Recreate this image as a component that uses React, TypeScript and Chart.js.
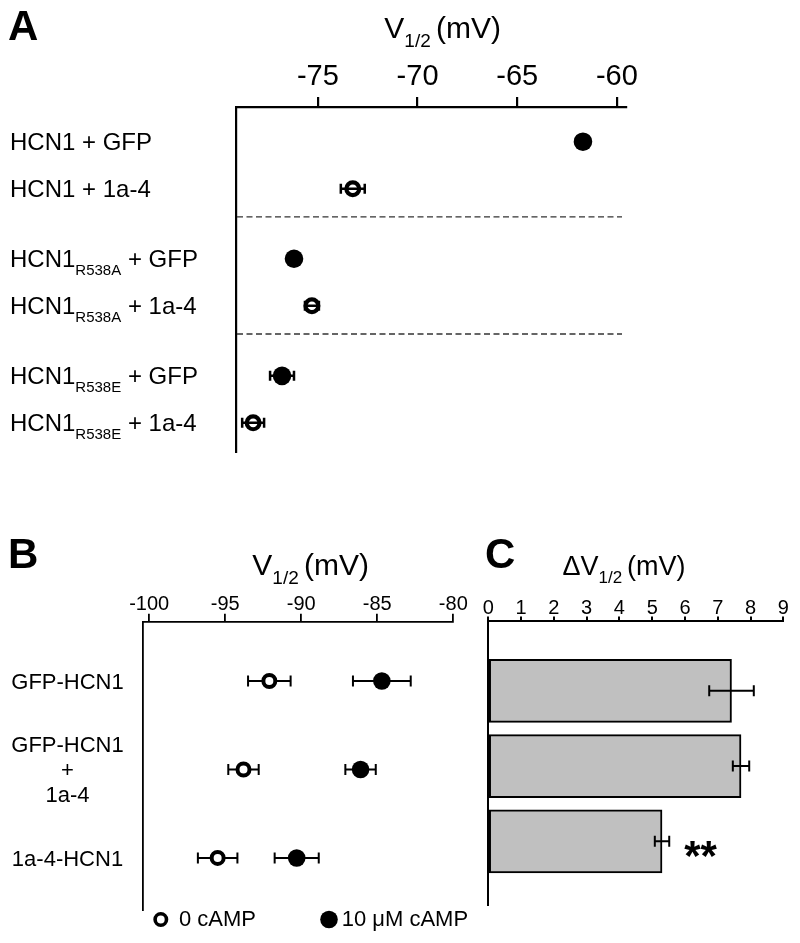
import { useEffect, useRef } from "react";
import { Chart, registerables } from "chart.js";
Chart.register(...registerables);

const FONT = "'Liberation Sans', Arial, Helvetica, sans-serif";

// ---------- Panel A data ----------
const labelsA = [
  "HCN1 + GFP",
  "HCN1 + 1a-4",
  "HCN1_R538A + GFP",
  "HCN1_R538A + 1a-4",
  "HCN1_R538E + GFP",
  "HCN1_R538E + 1a-4",
];
const groupA = [0, 0, 1, 1, 2, 2];
const filledA = [true, false, true, false, true, false];
const valuesA = [-61.7, -73.25, -76.2, -75.3, -76.8, -78.25];
const errorsA = [0.3, 0.6, 0.3, 0.35, 0.6, 0.55];
const ticksA = [-75, -70, -65, -60];

// ---------- Panel B data ----------
const labelsB = [["GFP-HCN1"], ["GFP-HCN1", "+", "1a-4"], ["1a-4-HCN1"]];
const camp0B = [-92.1, -93.8, -95.5];
const camp0ErrB = [1.4, 1.0, 1.3];
const camp10B = [-84.7, -86.1, -90.3];
const camp10ErrB = [1.9, 1.0, 1.45];
const ticksB = [-100, -95, -90, -85, -80];
const legendB = ["0 cAMP", "10 μM cAMP"];

// ---------- Panel C data ----------
const deltaC = [7.42, 7.71, 5.3];
const deltaErrC = [0.68, 0.25, 0.22];
const sigC = ["", "", "**"];
const ticksC = [0, 1, 2, 3, 4, 5, 6, 7, 8, 9];

type Part = { t: string; sub?: boolean };

const GROUP_GAP = 0.49;
const rowPosA = (i: number) => i + GROUP_GAP * groupA[i];

function parseSub(label: string): Part[] {
  const m = label.match(/^(.*?)_(\S+)(.*)$/);
  if (!m) return [{ t: label }];
  return [{ t: m[1] }, { t: m[2], sub: true }, { t: m[3] }];
}

function drawRich(
  ctx: CanvasRenderingContext2D,
  parts: Part[],
  x: number,
  y: number,
  size: number,
  subSize: number,
  align: "left" | "center",
  weight = "normal"
) {
  ctx.save();
  ctx.fillStyle = "#000";
  ctx.textBaseline = "alphabetic";
  ctx.textAlign = "left";
  const widths = parts.map((p) => {
    ctx.font = `${weight} ${p.sub ? subSize : size}px ${FONT}`;
    return ctx.measureText(p.t).width;
  });
  const total = widths.reduce((a, b) => a + b, 0);
  let cx = align === "center" ? x - total / 2 : x;
  parts.forEach((p, i) => {
    ctx.font = `${weight} ${p.sub ? subSize : size}px ${FONT}`;
    ctx.fillText(p.t, cx, p.sub ? y + size * 0.3 : y);
    cx += widths[i];
  });
  ctx.restore();
}

function drawErrH(ctx: CanvasRenderingContext2D, xs: any, v: number, e: number, y: number, cap: number) {
  const x1 = xs.getPixelForValue(v - e);
  const x2 = xs.getPixelForValue(v + e);
  ctx.beginPath();
  ctx.moveTo(x1, y);
  ctx.lineTo(x2, y);
  ctx.moveTo(x1, y - cap / 2);
  ctx.lineTo(x1, y + cap / 2);
  ctx.moveTo(x2, y - cap / 2);
  ctx.lineTo(x2, y + cap / 2);
  ctx.stroke();
}

function letter(ctx: CanvasRenderingContext2D, t: string, x: number, y: number) {
  ctx.save();
  ctx.font = `bold 42px ${FONT}`;
  ctx.fillStyle = "#000";
  ctx.textAlign = "left";
  ctx.textBaseline = "alphabetic";
  ctx.fillText(t, x, y);
  ctx.restore();
}

function topAxis(min: number, max: number, ticks: number[], height: number, fontSize: number, tickLen: number, pad: number, lw: number) {
  return {
    type: "linear",
    position: "top",
    min,
    max,
    afterFit: (s: any) => {
      s.height = height;
    },
    afterBuildTicks: (s: any) => {
      s.ticks = ticks.map((v) => ({ value: v }));
    },
    ticks: {
      font: { size: fontSize, family: FONT },
      color: "#000",
      padding: pad,
      autoSkip: false,
      maxRotation: 0,
    },
    grid: {
      display: true,
      drawOnChartArea: false,
      drawTicks: true,
      tickLength: tickLen,
      tickWidth: lw,
      tickColor: "#000",
      color: "#000",
      lineWidth: lw,
    },
    border: { display: true, width: lw, color: "#000" },
  } as any;
}

function leftAxis(min: number, max: number, width: number, lw: number) {
  return {
    type: "linear",
    reverse: true,
    min,
    max,
    afterFit: (s: any) => {
      s.width = width;
    },
    ticks: { display: false },
    grid: { display: false, drawTicks: false },
    border: { display: true, width: lw, color: "#000" },
  } as any;
}

function makeA(canvas: HTMLCanvasElement) {
  const filledPts: any[] = [];
  const openPts: any[] = [];
  valuesA.forEach((v, i) => {
    (filledA[i] ? filledPts : openPts).push({ x: v, y: rowPosA(i) });
  });
  const plugin = {
    id: "decorA",
    beforeDatasetsDraw(chart: any) {
      const { ctx, chartArea, scales } = chart;
      ctx.save();
      ctx.strokeStyle = "#333";
      ctx.lineWidth = 1.4;
      ctx.setLineDash([6, 3.5]);
      [1, 3].forEach((lastRow) => {
        const y = scales.y.getPixelForValue(rowPosA(lastRow) + 0.6);
        ctx.beginPath();
        ctx.moveTo(chartArea.left + 1, y);
        ctx.lineTo(chartArea.right - 4, y);
        ctx.stroke();
      });
      ctx.restore();
    },
    afterDatasetsDraw(chart: any) {
      const { ctx, scales } = chart;
      ctx.save();
      ctx.strokeStyle = "#000";
      ctx.lineWidth = 2.5;
      valuesA.forEach((v, i) => drawErrH(ctx, scales.x, v, errorsA[i], scales.y.getPixelForValue(rowPosA(i)), 10));
      ctx.restore();
    },
    afterDraw(chart: any) {
      const { ctx, chartArea, scales } = chart;
      labelsA.forEach((l, i) => {
        const y = scales.y.getPixelForValue(rowPosA(i)) + 24 * 0.358;
        drawRich(ctx, parseSub(l), 10, y, 24, 15, "left");
      });
      const cx = chartArea.left + 0.53 * (chartArea.right - chartArea.left);
      drawRich(ctx, [{ t: "V" }, { t: "1/2 ", sub: true }, { t: "(mV)" }], cx, 37.5, 30, 19, "center");
      letter(ctx, "A", 8, 40);
    },
  };
  return new Chart(canvas, {
    type: "scatter",
    data: {
      datasets: [
        { label: "GFP", data: filledPts, pointRadius: 9.3, borderWidth: 0, backgroundColor: "#000", clip: false } as any,
        { label: "1a-4", data: openPts, pointRadius: 6.4, borderWidth: 4.2, borderColor: "#000", backgroundColor: "rgba(255,255,255,0)", clip: false } as any,
      ],
    },
    options: {
      animation: false,
      responsive: false,
      maintainAspectRatio: false,
      layout: { padding: { left: 0, top: 0, right: 34, bottom: 18 } },
      plugins: { legend: { display: false }, tooltip: { enabled: false } },
      scales: {
        x: topAxis(-79.11, -59.54, ticksA, 107, 29, 10, 2.5, 2.2),
        y: leftAxis(-0.738, 6.6, 236, 2.2),
      },
    } as any,
    plugins: [plugin],
  });
}

function makeB(canvas: HTMLCanvasElement) {
  const plugin = {
    id: "decorB",
    beforeDatasetsDraw(chart: any) {
      const { ctx, scales } = chart;
      ctx.save();
      ctx.strokeStyle = "#000";
      ctx.lineWidth = 2;
      camp0B.forEach((v, i) => drawErrH(ctx, scales.x, v, camp0ErrB[i], scales.y.getPixelForValue(i), 11));
      camp10B.forEach((v, i) => drawErrH(ctx, scales.x, v, camp10ErrB[i], scales.y.getPixelForValue(i), 11));
      ctx.restore();
    },
    afterDraw(chart: any) {
      const { ctx, chartArea, scales } = chart;
      ctx.save();
      ctx.fillStyle = "#000";
      ctx.textAlign = "center";
      ctx.textBaseline = "alphabetic";
      ctx.font = `22px ${FONT}`;
      labelsB.forEach((lines, i) => {
        const y = scales.y.getPixelForValue(i);
        lines.forEach((t, j) => {
          ctx.fillText(t, 67.5, y + 22 * 0.358 + (j - (lines.length - 1) / 2) * 25);
        });
      });
      // legend
      const ly = chartArea.bottom + 9.5;
      ctx.strokeStyle = "#000";
      ctx.lineWidth = 3.6;
      ctx.beginPath();
      ctx.arc(chartArea.left + 17.5, ly, 5.7, 0, Math.PI * 2);
      ctx.stroke();
      ctx.beginPath();
      ctx.arc(chartArea.left + 185.7, ly, 8.8, 0, Math.PI * 2);
      ctx.fill();
      ctx.textAlign = "left";
      ctx.font = `22px ${FONT}`;
      ctx.fillText(legendB[0], chartArea.left + 35.7, ly + 6.5);
      ctx.fillText(legendB[1], chartArea.left + 198.4, ly + 6.5);
      ctx.restore();
      const cx = chartArea.left + 0.54 * (chartArea.right - chartArea.left);
      drawRich(ctx, [{ t: "V" }, { t: "1/2 ", sub: true }, { t: "(mV)" }], cx, 45, 30, 19, "center");
      letter(ctx, "B", 8, 38);
    },
  };
  return new Chart(canvas, {
    type: "scatter",
    data: {
      datasets: [
        { label: "0 cAMP", data: camp0B.map((v, i) => ({ x: v, y: i })), pointRadius: 6, borderWidth: 4, borderColor: "#000", backgroundColor: "#fff", clip: false } as any,
        { label: "10 μM cAMP", data: camp10B.map((v, i) => ({ x: v, y: i })), pointRadius: 8.8, borderWidth: 0, backgroundColor: "#000", clip: false } as any,
      ],
    },
    options: {
      animation: false,
      responsive: false,
      maintainAspectRatio: false,
      layout: { padding: { left: 0, top: 0, right: 26.7, bottom: 33 } },
      plugins: { legend: { display: false }, tooltip: { enabled: false } },
      scales: {
        x: topAxis(-100.39, -80, ticksB, 91.7, 20, 8, -3, 1.8),
        y: leftAxis(-0.67, 2.588, 143.3, 1.8),
      },
    } as any,
    plugins: [plugin],
  });
}

function makeC(canvas: HTMLCanvasElement) {
  const plugin = {
    id: "decorC",
    afterDatasetsDraw(chart: any) {
      const { ctx, scales } = chart;
      ctx.save();
      ctx.strokeStyle = "#000";
      ctx.lineWidth = 2;
      deltaC.forEach((v, i) => drawErrH(ctx, scales.x, v, deltaErrC[i], scales.y.getPixelForValue(i), 11));
      ctx.fillStyle = "#000";
      ctx.font = `bold 42px ${FONT}`;
      ctx.textAlign = "left";
      ctx.textBaseline = "alphabetic";
      sigC.forEach((s, i) => {
        if (!s) return;
        ctx.fillText(s, scales.x.getPixelForValue(deltaC[i] + deltaErrC[i]) + 15, scales.y.getPixelForValue(i) + 29);
      });
      ctx.restore();
    },
    afterDraw(chart: any) {
      const { ctx, chartArea } = chart;
      const cx = chartArea.left + 0.46 * (chartArea.right - chartArea.left);
      drawRich(ctx, [{ t: "ΔV" }, { t: "1/2 ", sub: true }, { t: "(mV)" }], cx, 45, 27, 17, "center");
      letter(ctx, "C", 5, 38);
    },
  };
  return new Chart(canvas, {
    type: "bar",
    data: {
      datasets: [
        {
          label: "ΔV1/2",
          data: deltaC.map((v, i) => ({ x: v, y: i })),
          barThickness: 63,
          backgroundColor: "#c0c0c0",
          borderColor: "#000",
          borderWidth: 2,
          borderSkipped: false,
          clip: false,
        } as any,
      ],
    },
    options: {
      indexAxis: "y",
      animation: false,
      responsive: false,
      maintainAspectRatio: false,
      layout: { padding: { left: 0, top: 0, right: 16.7, bottom: 38 } },
      plugins: { legend: { display: false }, tooltip: { enabled: false } },
      scales: {
        x: topAxis(0, 9, ticksC, 91, 20, 4.5, -3.5, 2),
        y: leftAxis(-0.692, 2.61, 8.3, 2),
      },
    } as any,
    plugins: [plugin],
  });
}

export default function App() {
  const refA = useRef<HTMLCanvasElement>(null);
  const refB = useRef<HTMLCanvasElement>(null);
  const refC = useRef<HTMLCanvasElement>(null);
  useEffect(() => {
    const charts = [makeA(refA.current!), makeB(refB.current!), makeC(refC.current!)];
    return () => charts.forEach((c) => c.destroy());
  }, []);
  return (
    <div style={{ position: "absolute", left: 0, top: 0, width: 800, height: 943, background: "#fff", overflow: "hidden" }}>
      <canvas ref={refA} width={660} height={470} style={{ position: "absolute", left: 0, top: 0, width: 660, height: 470 }} />
      <canvas ref={refB} width={480} height={413} style={{ position: "absolute", left: 0, top: 530, width: 480, height: 413 }} />
      <canvas ref={refC} width={320} height={413} style={{ position: "absolute", left: 480, top: 530, width: 320, height: 413 }} />
    </div>
  );
}
